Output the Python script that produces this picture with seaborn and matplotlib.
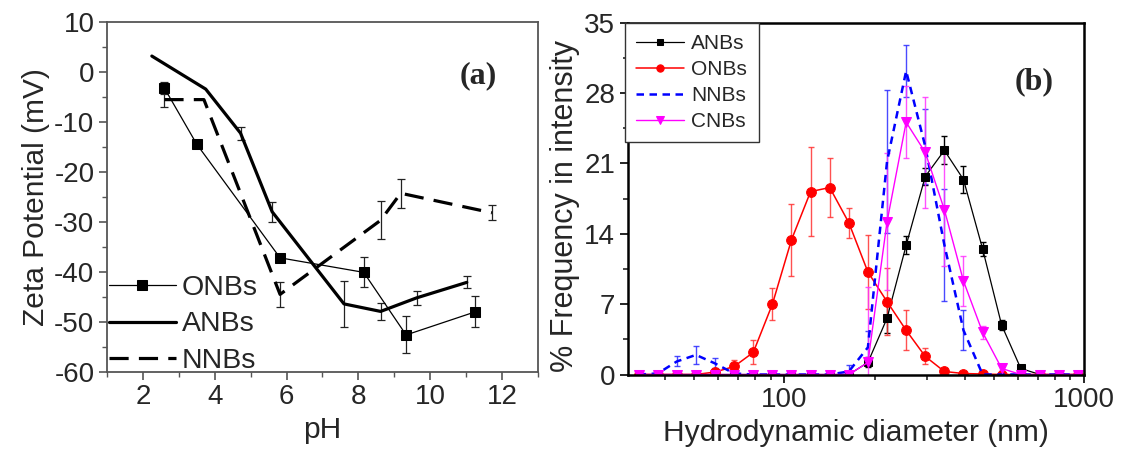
import matplotlib
matplotlib.use("Agg")
import matplotlib.pyplot as plt
import numpy as np
import seaborn as sns
from matplotlib.ticker import FixedLocator, FuncFormatter, MultipleLocator, NullFormatter

sns.set_style("ticks")
plt.rcParams["font.family"] = ["Liberation Sans", "DejaVu Sans"]
plt.rcParams["axes.unicode_minus"] = False

# ---- (a) zeta potential versus pH ----
ph_onbs = [2.6, 3.5, 5.82, 8.15, 9.33, 11.25]
zeta_onbs = [-3.3, -14.5, -37.2, -40.1, -52.6, -48.0]
err_onbs = [1.2, 0.6, 0.0, 3.0, 3.7, 3.1]

ph_anbs = [2.25, 3.75, 4.72, 5.6, 7.6, 8.62, 9.62, 11.02]
zeta_anbs = [3.1, -3.5, -12.3, -28.0, -46.4, -47.9, -45.2, -42.1]
err_anbs = [0.0, 0.0, 1.3, 2.0, 4.6, 1.7, 1.4, 1.2]

ph_nnbs = [2.6, 3.7, 5.82, 8.62, 9.18, 11.72]
zeta_nnbs = [-5.6, -5.6, -44.5, -29.7, -24.3, -28.2]
err_nnbs = [1.5, 0.0, 2.5, 3.8, 2.9, 1.5]

# ---- (b) size distribution by intensity ----
size_nm = [32.67, 37.84, 43.82, 50.75, 58.77, 68.06, 78.82, 91.28, 105.7, 122.4,
           141.8, 164.2, 190.1, 220.2, 255.0, 295.3, 342.0, 396.1, 458.7, 531.2,
           615.1, 712.4, 825.0, 955.4]
freq_anbs = [0, 0, 0, 0, 0, 0, 0, 0, 0, 0,
             0, 0, 1.2, 5.6, 12.85, 19.7, 22.3, 19.4, 12.5, 4.9,
             0.6, 0, 0, 0]
sd_anbs = [0, 0, 0, 0, 0, 0, 0, 0, 0, 0,
           0, 0, 0.5, 1.5, 0.9, 0.8, 1.4, 1.3, 0.7, 0.5,
           0.3, 0, 0, 0]
freq_onbs = [0, 0, 0, 0, 0.25, 0.8, 2.2, 7.0, 13.4, 18.2,
             18.6, 15.1, 10.2, 7.25, 4.4, 1.8, 0.3, 0.1, 0.05, 0,
             0, 0, 0, 0]
sd_onbs = [0, 0, 0, 0, 0.2, 0.6, 1.2, 1.6, 3.6, 4.4,
           2.9, 1.5, 3.7, 3.3, 2.0, 0.8, 0, 0, 0, 0,
           0, 0, 0, 0]
freq_nnbs = [0, 0.1, 1.3, 1.95, 1.1, 0.1, 0, 0, 0, 0,
             0, 0.3, 2.7, 21.2, 30.2, 22.7, 12.9, 4.4, 0, 0,
             0, 0, 0, 0]
sd_nnbs = [0, 0, 0.5, 0.9, 0.5, 0, 0, 0, 0, 0,
           0, 0.6, 1.6, 7.1, 2.6, 3.75, 5.6, 2.0, 0, 0,
           0, 0, 0, 0]
freq_cnbs = [0, 0, 0, 0, 0, 0, 0, 0, 0, 0,
             0, 0, 1.2, 15.2, 25.1, 22.1, 16.4, 9.3, 4.2, 0.6,
             0, 0, 0, 0]
sd_cnbs = [0, 0, 0, 0, 0, 0, 0, 0, 0, 0,
           0, 0, 7.5, 6.8, 3.6, 5.55, 5.6, 2.45, 0.65, 0.2,
           0, 0, 0, 0]


def bars(ax, x, y, e, color, lw=0.9, cap=2.6, alpha=1.0):
    x, y, e = map(np.asarray, (x, y, e))
    m = e > 0
    ax.errorbar(x[m], y[m], yerr=e[m], fmt="none", ecolor=color, elinewidth=lw,
                capsize=cap, capthick=lw, alpha=alpha, zorder=1.5)


fig = plt.figure(figsize=(11.27, 4.49), dpi=100)
ax1 = fig.add_axes([0.0949, 0.1715, 0.3824, 0.7806])
ax2 = fig.add_axes([0.5568, 0.1659, 0.4051, 0.7835])

TICK_FS = 20
LABEL_FS = 21.5

# panel (a)
sns.lineplot(x=ph_onbs, y=zeta_onbs, ax=ax1, sort=False, color="black", lw=0.9,
             marker="s", markersize=7.5, markeredgecolor="black", label="ONBs")
sns.lineplot(x=ph_anbs, y=zeta_anbs, ax=ax1, sort=False, color="black", lw=2.3,
             label="ANBs")
sns.lineplot(x=ph_nnbs, y=zeta_nnbs, ax=ax1, sort=False, color="black", lw=2.3,
             linestyle=(0, (6.0, 3.2)), label="NNBs")
bars(ax1, ph_onbs, zeta_onbs, err_onbs, "#222222", cap=3.0)
bars(ax1, ph_anbs, zeta_anbs, err_anbs, "#222222", cap=3.0)
bars(ax1, ph_nnbs, zeta_nnbs, err_nnbs, "#222222", cap=3.0)

ax1.set_xlim(1, 13)
ax1.set_ylim(-60, 10)
ax1.xaxis.set_major_locator(FixedLocator([2, 4, 6, 8, 10, 12]))
ax1.xaxis.set_minor_locator(MultipleLocator(1))
ax1.yaxis.set_major_locator(MultipleLocator(10))
ax1.yaxis.set_minor_locator(MultipleLocator(5))
for s in ax1.spines.values():
    s.set_color("#555555")
    s.set_linewidth(1.3)
ax1.tick_params(which="major", direction="out", length=6, width=1.2,
                color="#555555", labelsize=TICK_FS, pad=3)
ax1.tick_params(which="minor", direction="out", length=3.5, width=1.0,
                color="#555555")
ax1.set_xlabel("pH", fontsize=LABEL_FS, labelpad=4)
ax1.set_ylabel("Zeta Potential (mV)", fontsize=LABEL_FS, labelpad=3)
ax1.text(0.862, 0.846, "(a)", transform=ax1.transAxes, ha="center", va="center",
         fontsize=23, fontweight="bold", family="Liberation Serif")
h1, l1 = ax1.get_legend_handles_labels()
ax1.legend(h1, l1, loc="lower left", bbox_to_anchor=(0.004, -0.005), frameon=False,
           fontsize=20.5, handlelength=2.35, handletextpad=0.22, labelspacing=0.36,
           borderpad=0, borderaxespad=0)

# panel (b)
sns.lineplot(x=size_nm, y=freq_anbs, ax=ax2, color="black", lw=0.9, marker="s",
             markersize=6, markeredgecolor="black", label="ANBs", zorder=2)
sns.lineplot(x=size_nm, y=freq_onbs, ax=ax2, color="#ff0000", lw=1.1, marker="o",
             markersize=7, markeredgecolor="#ff0000", label="ONBs", zorder=2.1)
sns.lineplot(x=size_nm, y=freq_nnbs, ax=ax2, color="#0000ff", lw=1.8,
             linestyle=(0, (3.0, 2.2)), label="NNBs", zorder=2.2)
sns.lineplot(x=size_nm, y=freq_cnbs, ax=ax2, color="#ff00ff", lw=1.0, marker="v",
             markersize=7.5, markeredgecolor="#ff00ff", label="CNBs", zorder=2.3)
bars(ax2, size_nm, freq_anbs, sd_anbs, "black", lw=1.0, cap=2.5)
bars(ax2, size_nm, freq_onbs, sd_onbs, "#ff3333", lw=1.0, cap=2.5, alpha=0.85)
bars(ax2, size_nm, freq_nnbs, sd_nnbs, "#2a2aff", lw=1.0, cap=2.5, alpha=0.85)
bars(ax2, size_nm, freq_cnbs, sd_cnbs, "#ff33ff", lw=1.0, cap=2.5, alpha=0.85)

ax2.set_xscale("log")
ax2.set_xlim(30, 1000)
ax2.set_ylim(0, 35)
ax2.xaxis.set_major_locator(FixedLocator([100, 1000]))
ax2.xaxis.set_major_formatter(FuncFormatter(lambda v, p: f"{v:.0f}"))
ax2.xaxis.set_minor_locator(FixedLocator([40, 50, 60, 70, 80, 90,
                                          200, 300, 400, 500, 600, 700, 800, 900]))
ax2.xaxis.set_minor_formatter(NullFormatter())
ax2.yaxis.set_major_locator(MultipleLocator(7))
ax2.yaxis.set_minor_locator(MultipleLocator(3.5))
for s in ax2.spines.values():
    s.set_color("black")
    s.set_linewidth(1.8)
ax2.tick_params(which="major", direction="out", length=6, width=1.4,
                labelsize=TICK_FS, pad=3)
ax2.tick_params(which="minor", direction="out", length=3.5, width=1.2)
ax2.set_xlabel("Hydrodynamic diameter (nm)", fontsize=LABEL_FS, labelpad=4)
ax2.set_ylabel("% Frequency in intensity", fontsize=22, labelpad=0)
ax2.yaxis.set_label_coords(-0.104, 0.48)
ax2.text(0.89, 0.832, "(b)", transform=ax2.transAxes, ha="center", va="center",
         fontsize=23, fontweight="bold", family="Liberation Serif")
h2, l2 = ax2.get_legend_handles_labels()
leg2 = ax2.legend(h2, l2, loc="upper left", bbox_to_anchor=(-0.006, 1.0),
                  fontsize=15, handlelength=2.3, handletextpad=0.35,
                  labelspacing=0.33, borderpad=0.55, borderaxespad=0,
                  fancybox=False, framealpha=1, markerscale=0.75)
leg2.get_frame().set_edgecolor("#333333")
leg2.get_frame().set_linewidth(1.0)

fig.savefig("out.png", dpi=100)
